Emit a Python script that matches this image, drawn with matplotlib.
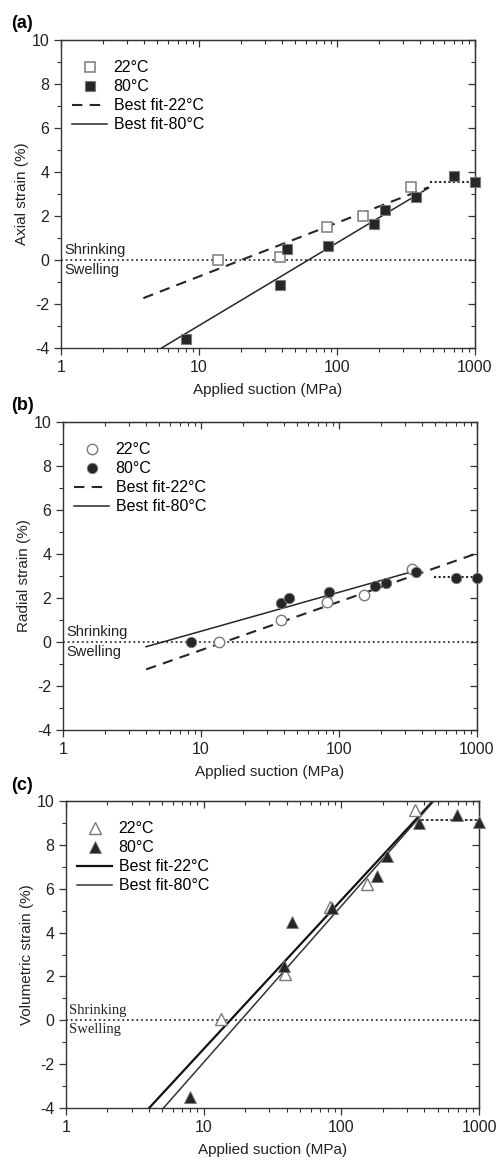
import numpy as np
import matplotlib
matplotlib.use("Agg")
import matplotlib.pyplot as plt
from matplotlib.ticker import LogLocator, MultipleLocator, FixedLocator, NullFormatter

plt.rcParams['font.family'] = ['Liberation Sans', 'DejaVu Sans']
plt.rcParams['axes.unicode_minus'] = False

# ---------------- data ----------------
# (a) axial strain
a22_x = [13.7, 38.5, 84, 155, 345]
a22_y = [0.0, 0.12, 1.52, 2.02, 3.31]
a80_x = [8.0, 38.5, 43.5, 85.5, 186, 221, 372, 703, 1000]
a80_y = [-3.57, -1.15, 0.5, 0.65, 1.64, 2.29, 2.88, 3.83, 3.53]
a_fit22 = (-3.19, 2.44)   # intercept, slope per decade
a_fit22_x = [3.95, 460]
a_fit80 = (-6.74, 3.76)
a_fit80_x = [5.36, 460]
a_plateau_x = [470, 1000]
a_plateau_y = 3.55

# (b) radial strain
b22_x = [13.4, 38.2, 82, 153, 339]
b22_y = [0.0, 1.0, 1.84, 2.14, 3.32]
b80_x = [8.4, 38, 43.7, 85, 182, 218, 363, 700, 1000]
b80_y = [0.0, 1.79, 2.02, 2.26, 2.55, 2.67, 3.2, 2.9, 2.9]
b_fit22 = (-2.57, 2.2)
b_fit22_x = [4.0, 1000]
b_fit80 = (-1.28, 1.77)
b_fit80_x = [4.0, 339]
b_plateau_x = [490, 1000]
b_plateau_y = 2.94

# (c) volumetric strain
c22_x = [13.4, 39, 82.6, 153, 342]
c22_y = [0.05, 2.1, 5.17, 6.23, 9.6]
c80_x = [7.9, 38.5, 44, 86, 182, 216, 367, 697, 1000]
c80_y = [-3.52, 2.47, 4.46, 5.1, 6.6, 7.48, 9.0, 9.34, 9.04]
c_fit22 = (-8.10, 6.79)
c_fit22_x = [4.02, 464]
c_fit80 = (-9.05, 7.13)
c_fit80_x = [5.1, 470]
c_plateau_x = [380, 1000]
c_plateau_y = 9.12

xticks = [1, 10, 100, 1000]
xticklabels = ['1', '10', '100', '1000']
yticks = [-4, -2, 0, 2, 4, 6, 8, 10]

# ---------------- figure ----------------
W, H = 498, 1161
fig = plt.figure(figsize=(W / 100, H / 100), dpi=100)

def ax_rect(l, r, t, b):
    return [l / W, 1 - b / H, (r - l) / W, (b - t) / H]

axA = fig.add_axes(ax_rect(61, 475, 40, 348))
axB = fig.add_axes(ax_rect(63, 477, 422, 730))
axC = fig.add_axes(ax_rect(66, 479, 801, 1108))

GRAY = '#7a7a7a'
DARK = '#262626'

def fitline(ax, coef, xr, **kw):
    xs = np.logspace(np.log10(xr[0]), np.log10(xr[1]), 50)
    ys = coef[0] + coef[1] * np.log10(xs)
    return ax.plot(xs, ys, **kw)[0]

def style(ax, ylabel, textfont):
    ax.set_xscale('log')
    ax.set_xlim(1, 1000)
    ax.set_ylim(-4, 10)
    ax.xaxis.set_major_locator(FixedLocator(xticks))
    ax.set_xticklabels(xticklabels)
    ax.xaxis.set_minor_locator(LogLocator(base=10, subs=np.arange(2, 10)))
    ax.xaxis.set_minor_formatter(NullFormatter())
    ax.yaxis.set_major_locator(FixedLocator(yticks))
    ax.yaxis.set_minor_locator(MultipleLocator(1))
    ax.tick_params(which='both', direction='out', top=False, right=False,
                   labelsize=11.5, color='#333333', labelcolor='#222222')
    ax.tick_params(which='major', length=5, width=0.9)
    ax.tick_params(which='minor', length=3, width=0.8)
    # top / right inward ticks
    ax2 = ax.secondary_xaxis('top')
    ax2.xaxis.set_major_locator(FixedLocator(xticks))
    ax2.xaxis.set_minor_locator(LogLocator(base=10, subs=np.arange(2, 10)))
    ax2.tick_params(which='both', direction='in', labeltop=False, color='#333333')
    ax2.tick_params(which='major', length=5, width=0.9)
    ax2.tick_params(which='minor', length=3, width=0.8)
    ax2.set_xticklabels([])
    ax2.xaxis.set_minor_formatter(NullFormatter())
    ay2 = ax.secondary_yaxis('right')
    ay2.yaxis.set_major_locator(FixedLocator(yticks))
    ay2.yaxis.set_minor_locator(MultipleLocator(1))
    ay2.tick_params(which='both', direction='in', labelright=False, color='#333333')
    ay2.tick_params(which='major', length=5, width=0.9)
    ay2.tick_params(which='minor', length=3, width=0.8)
    ay2.set_yticklabels([])
    for s in ax.spines.values():
        s.set_linewidth(1.0)
        s.set_color('#333333')
    ax.set_xlabel('Applied suction (MPa)', fontsize=11, color='#222222', labelpad=6)
    ax.set_ylabel(ylabel, fontsize=11, color='#222222', labelpad=2)
    ax.axhline(0, color='#333333', lw=1.3, ls=(0, (1, 1.6)), zorder=1)
    ax.text(1.05, 0.15, 'Shrinking', fontsize=10.5, family=textfont,
            color='#222222', va='bottom', ha='left')
    ax.text(1.05, -0.12, 'Swelling', fontsize=10.5, family=textfont,
            color='#222222', va='top', ha='left')

legkw = dict(loc='upper left', bbox_to_anchor=(0.0, 0.97), frameon=False, fontsize=11.5,
             handlelength=2.2, handletextpad=0.4, labelspacing=0.25, borderaxespad=0.3)
labels = ['22°C', '80°C', 'Best fit-22°C', 'Best fit-80°C']

# ---- (a)
style(axA, 'Axial strain (%)', ['Liberation Sans'])
l1 = fitline(axA, a_fit22, a_fit22_x, color=DARK, lw=1.5, ls=(0, (5, 3.5)), zorder=2)
l2 = fitline(axA, a_fit80, a_fit80_x, color=DARK, lw=1.1, zorder=2)
axA.plot(a_plateau_x, [a_plateau_y] * 2, color=DARK, lw=1.5, ls=(0, (1, 1.2)), zorder=2)
m1, = axA.plot(a22_x, a22_y, 's', ms=6.5, mfc='white', mec=GRAY, mew=1.1, ls='none', zorder=3)
m2, = axA.plot(a80_x, a80_y, 's', ms=7, mfc=DARK, mec=GRAY, mew=0.8, ls='none', zorder=3, clip_on=False)
axA.legend([m1, m2, l1, l2], labels, **legkw)

# ---- (b)
style(axB, 'Radial strain (%)', ['Liberation Sans'])
l1 = fitline(axB, b_fit22, b_fit22_x, color=DARK, lw=1.5, ls=(0, (5, 3.5)), zorder=2)
l2 = fitline(axB, b_fit80, b_fit80_x, color=DARK, lw=1.1, zorder=2)
axB.plot(b_plateau_x, [b_plateau_y] * 2, color=DARK, lw=1.5, ls=(0, (1, 1.2)), zorder=2)
m1, = axB.plot(b22_x, b22_y, 'o', ms=7.5, mfc='white', mec=GRAY, mew=1.0, ls='none', zorder=3)
m2, = axB.plot(b80_x, b80_y, 'o', ms=7.5, mfc=DARK, mec=GRAY, mew=0.6, ls='none', zorder=3, clip_on=False)
axB.legend([m1, m2, l1, l2], labels, **legkw)

# ---- (c)
style(axC, 'Volumetric strain (%)', ['Liberation Serif'])
l1 = fitline(axC, c_fit22, c_fit22_x, color='#111111', lw=1.6, zorder=2)
l2 = fitline(axC, c_fit80, c_fit80_x, color='#333333', lw=1.1, zorder=2)
axC.plot(c_plateau_x, [c_plateau_y] * 2, color=DARK, lw=1.3, ls=(0, (1.5, 1.2)), zorder=2)
m1, = axC.plot(c22_x, c22_y, '^', ms=8, mfc='white', mec=GRAY, mew=1.0, ls='none', zorder=3)
m2, = axC.plot(c80_x, c80_y, '^', ms=8, mfc=DARK, mec=GRAY, mew=0.6, ls='none', zorder=3, clip_on=False)
axC.legend([m1, m2, l1, l2], labels, **legkw)

# panel labels
for lab, y in [('(a)', 24), ('(b)', 405), ('(c)', 786)]:
    fig.text(11 / W, 1 - y / H, lab, fontsize=13, fontweight='bold', va='center', ha='left')

fig.savefig('out.png', dpi=100)
